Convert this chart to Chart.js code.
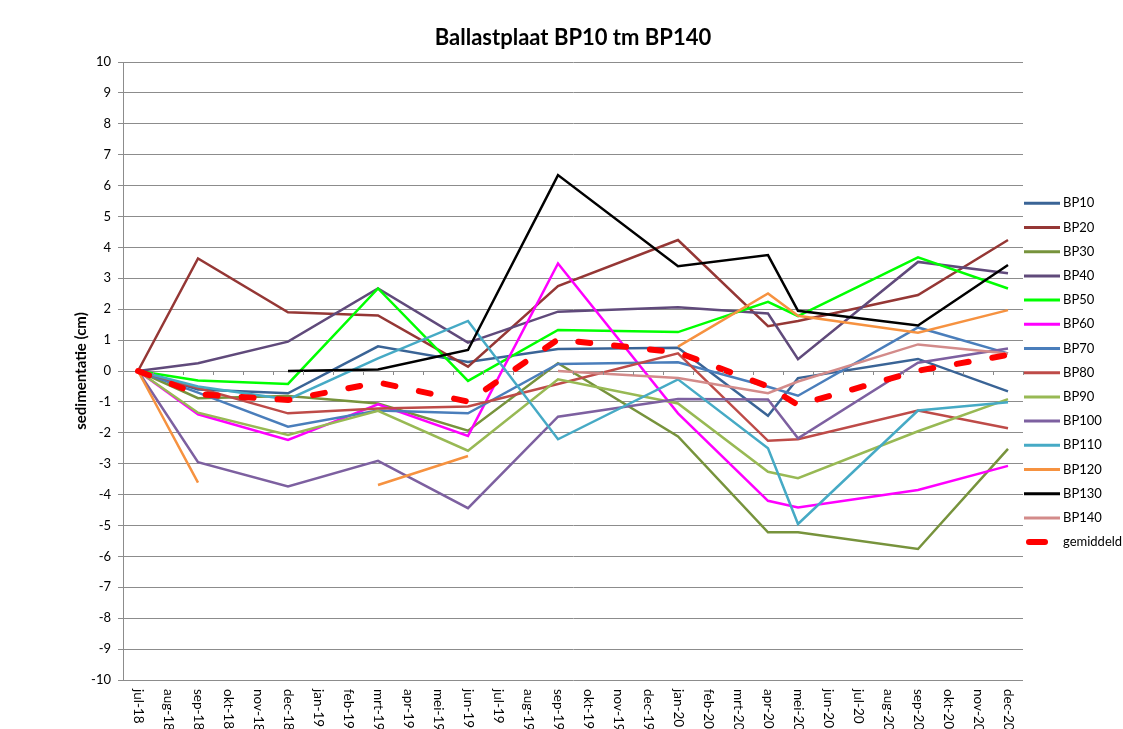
<!DOCTYPE html>
<html>
<head>
<meta charset="utf-8">
<script src="https://cdn.jsdelivr.net/npm/chart.js@4"></script>
<style>
  body { margin: 0; background: #fff; }
  canvas { display: block; }
</style>
</head>
<body>
<canvas id="ballast" width="1123" height="729"></canvas>
<script>
// alle maanden op de x-as
const maanden = ["jul-18","aug-18","sep-18","okt-18","nov-18","dec-18","jan-19","feb-19","mrt-19","apr-19","mei-19","jun-19",
    "jul-19","aug-19","sep-19","okt-19","nov-19","dec-19","jan-20","feb-20","mrt-20","apr-20","mei-20","jun-20",
    "jul-20","aug-20","sep-20","okt-20","nov-20","dec-20"];

// maanden waarin gemeten is
const meetmomenten = ["jul-18","sep-18","dec-18","mrt-19","jun-19","sep-19","jan-20","apr-20","mei-20","sep-20","dec-20"];

const BP10  = [0, -0.6, -0.72, 0.8, 0.29, 0.71, 0.75, -1.45, -0.23, 0.39, -0.66];
const BP20  = [0, 3.64, 1.9, 1.8, 0.14, 2.75, 4.24, 1.45, 1.62, 2.46, 4.24];
const BP30  = [0, -0.88, -0.81, -1.05, -1.93, 0.25, -2.12, -5.22, -5.22, -5.76, -2.52];
const BP40  = [0, 0.25, 0.95, 2.67, 0.92, 1.92, 2.06, 1.86, 0.38, 3.53, 3.16];
const BP50  = [0, -0.31, -0.42, 2.67, -0.32, 1.33, 1.26, 2.24, 1.78, 3.68, 2.67];
const BP60  = [0, -1.4, -2.23, -1.08, -2.1, 3.48, -1.37, -4.2, -4.42, -3.85, -3.07];
const BP70  = [0, -0.7, -1.8, -1.28, -1.37, 0.23, 0.28, -0.51, -0.8, 1.41, 0.57];
const BP80  = [0, -0.55, -1.37, -1.21, -1.15, -0.42, 0.57, -2.26, -2.21, -1.28, -1.85];
const BP90  = [0, -1.35, -2.07, -1.29, -2.58, -0.27, -1.05, -3.26, -3.47, -1.95, -0.91];
const BP100 = [0, -2.95, -3.74, -2.91, -4.44, -1.48, -0.91, -0.92, -2.18, 0.27, 0.73];
const BP110 = [0, -0.5, -0.92, 0.41, 1.62, -2.21, -0.27, -2.5, -4.95, -1.28, -1.01];
const BP120 = [0, -3.61, null, -3.69, -2.75, null, 0.79, 2.51, 1.79, 1.24, 1.97];
const BP130 = [null, null, 0, 0.05, 0.68, 6.34, 3.39, 3.75, 1.95, 1.47, 3.43];
const BP140 = [null, null, null, null, null, 0, -0.23, -0.72, -0.34, 0.86, 0.57];
const gemiddeld = [0, -0.75, -0.94, -0.37, -0.99, 1.02, 0.6, -0.5, -1.1, 0.01, 0.52];

const reeksen = [
    ["BP10", BP10, "#3A6496"],
    ["BP20", BP20, "#953735"],
    ["BP30", BP30, "#77933C"],
    ["BP40", BP40, "#604A7B"],
    ["BP50", BP50, "#00FF00"],
    ["BP60", BP60, "#FF00FF"],
    ["BP70", BP70, "#4A7EBB"],
    ["BP80", BP80, "#BE4B48"],
    ["BP90", BP90, "#98B954"],
    ["BP100", BP100, "#7D60A0"],
    ["BP110", BP110, "#46AAC5"],
    ["BP120", BP120, "#F69240"],
    ["BP130", BP130, "#000000"],
    ["BP140", BP140, "#D38B8A"],
];

const lettertype = "Lato, 'Open Sans', sans-serif";
const grijs = "#8c8c8c";

var datasets = reeksen.map((r, i) => ({
    label: r[0],
    data: meetmomenten.map((m, j) => ({ x: m, y: r[1][j] })),
    borderColor: r[2],
    backgroundColor: r[2],
    borderWidth: 2.5,
    pointRadius: 0,
    order: -i,
}));

datasets.push({
    label: "gemiddeld",
    data: meetmomenten.map((m, j) => ({ x: m, y: gemiddeld[j] })),
    borderColor: "#FF0000",
    backgroundColor: "#FF0000",
    borderWidth: 6,
    borderDash: [12, 24],
    borderCapStyle: "round",
    pointRadius: 0,
    order: -20,
});

// x-labels (verticaal, van boven naar beneden), streepjes op de nullijn en legenda
const extraTekenen = {
    id: "extraTekenen",
    afterDraw(chart) {
        const ctx = chart.ctx;
        const x = chart.scales.x;
        const y = chart.scales.y;
        const area = chart.chartArea;
        const halveBreedte = (x.getPixelForValue(1) - x.getPixelForValue(0)) / 2;

        ctx.save();
        // streepjes op de nullijn
        const y0 = y.getPixelForValue(0);
        ctx.strokeStyle = grijs;
        ctx.lineWidth = 1;
        ctx.beginPath();
        for (let i = 0; i < maanden.length; i++) {
            const px = Math.round(x.getPixelForValue(i) + halveBreedte) + 0.5;
            ctx.moveTo(px, y0);
            ctx.lineTo(px, y0 + 4);
        }
        ctx.stroke();

        // maandlabels
        ctx.fillStyle = "#000";
        ctx.font = "13.5px " + lettertype;
        ctx.textAlign = "left";
        ctx.textBaseline = "middle";
        maanden.forEach((m, i) => {
            ctx.save();
            ctx.translate(x.getPixelForValue(i), area.bottom + 9);
            ctx.rotate(Math.PI / 2);
            ctx.fillText(m, 0, 0);
            ctx.restore();
        });

        // legenda
        ctx.font = "13px " + lettertype;
        chart.data.datasets.forEach((ds, i) => {
            const ly = 203.3 + 24.2 * i;
            ctx.strokeStyle = ds.borderColor;
            ctx.lineWidth = ds.borderDash ? 6 : 3;
            ctx.lineCap = ds.borderDash ? "round" : "butt";
            ctx.beginPath();
            if (ds.borderDash) {
                ctx.moveTo(1029, ly);
                ctx.lineTo(1045, ly);
            } else {
                ctx.moveTo(1024, ly);
                ctx.lineTo(1060, ly);
            }
            ctx.stroke();
            ctx.fillStyle = "#000";
            ctx.fillText(ds.label, 1063, ly);
        });
        ctx.restore();
    },
};

new Chart(document.getElementById("ballast"), {
    type: "line",
    data: {
        labels: maanden,
        datasets: datasets,
    },
    options: {
        responsive: false,
        animation: false,
        spanGaps: false,
        layout: { padding: { left: 0, right: 100, top: 0, bottom: 0 } },
        plugins: {
            legend: { display: false },
            tooltip: { enabled: false },
            title: {
                display: true,
                text: "Ballastplaat BP10 tm BP140",
                fullSize: false,
                color: "#000",
                font: { family: lettertype, size: 22, weight: "bold" },
                padding: { top: 25, bottom: 10.6 },
            },
        },
        scales: {
            x: {
                type: "category",
                offset: true,
                grid: { display: false },
                border: { display: false },
                ticks: { display: false },
                afterFit(scale) { scale.height = 49; },
            },
            y: {
                min: -10,
                max: 10,
                ticks: {
                    stepSize: 1,
                    color: "#000",
                    padding: 7,
                    font: { family: lettertype, size: 13 },
                },
                grid: { color: grijs, tickLength: 5 },
                border: { color: grijs },
                title: {
                    display: true,
                    text: "sedimentatie (cm)",
                    color: "#000",
                    font: { family: lettertype, size: 15, weight: "bold" },
                    padding: { top: 72, bottom: 0 },
                },
                afterFit(scale) { scale.width = 123; },
            },
        },
    },
    plugins: [extraTekenen],
});
</script>
</body>
</html>
